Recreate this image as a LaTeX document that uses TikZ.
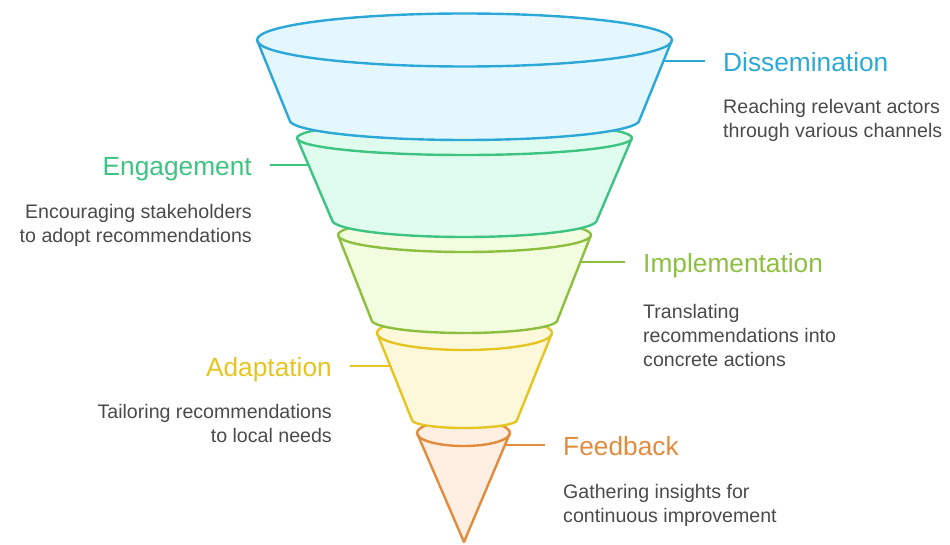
\documentclass[tikz,border=0pt]{standalone}
\usepackage{fontspec}
\setmainfont{Liberation Sans}
\definecolor{cBlue}{HTML}{2BA8D8}
\definecolor{fBlue}{HTML}{E5F7FE}
\definecolor{cGreen}{HTML}{3EC482}
\definecolor{fGreen}{HTML}{E0FCEF}
\definecolor{cLime}{HTML}{8CBF3F}
\definecolor{fLime}{HTML}{F2FDDF}
\definecolor{cYellow}{HTML}{E5C522}
\definecolor{fYellow}{HTML}{FEF8DA}
\definecolor{cOrange}{HTML}{E38B3D}
\definecolor{fOrange}{HTML}{FEEFE2}
\definecolor{descgray}{HTML}{4A4A4A}
% #1 stroke, #2 fill, #3 cx, #4 top cy, #5 top rx, #6 top ry, #7 bottom cy, #8 bottom rx, #9 bottom ry
\newcommand{\funlayer}[9]{%
  \path[draw=#1,fill=#2,line width=2.4pt,line join=round]
    (#3-#5,#4) -- (#3-#8,#7)
    arc[start angle=180,end angle=360,x radius=#8,y radius=#9]
    -- (#3+#5,#4)
    arc[start angle=0,end angle=180,x radius=#5,y radius=#6] -- cycle;
  \draw[#1,line width=2.4pt] (#3-#5,#4) arc[start angle=180,end angle=360,x radius=#5,y radius=#6];
}
\begin{document}
\begin{tikzpicture}[x=1pt,y=1pt,
  title/.style={inner sep=0pt,font=\fontsize{26.3}{30}\selectfont},
  desc/.style={inner sep=0pt,text=descgray,font=\fontsize{19.6}{24}\selectfont},
  conn/.style={line width=2.4pt}]
\useasboundingbox (0,0) rectangle (950,544);
% funnel layers, bottom first
\path[draw=cOrange,fill=fOrange,line width=2.4pt,line join=round]
  (417,111) -- (464,2) -- (510,111)
  arc[start angle=0,end angle=180,x radius=46.5,y radius=13] -- cycle;
\draw[cOrange,line width=2.4pt] (417,111) arc[start angle=180,end angle=360,x radius=46.5,y radius=13];
\funlayer{cYellow}{fYellow}{464.5}{211}{87.5}{17}{124}{52.5}{8}
\funlayer{cLime}{fLime}{464.5}{309}{126.5}{17}{224}{93}{13}
\funlayer{cGreen}{fGreen}{464.5}{406}{167.5}{17}{324}{132.5}{17}
\funlayer{cBlue}{fBlue}{464.5}{504}{207.5}{26.5}{424}{175}{20}
% anchor points on funnel sides and line ends
\coordinate (sBlue) at (664,483);
\coordinate (eBlue) at (705,483);
\coordinate (sGreen) at (308,379);
\coordinate (eGreen) at (270,379);
\coordinate (sLime) at (580,282);
\coordinate (eLime) at (625,282);
\coordinate (sYellow) at (389,178);
\coordinate (eYellow) at (350,178);
\coordinate (sOrange) at (505,99);
\coordinate (eOrange) at (545,99);
\draw[conn,cBlue] (sBlue) -- (eBlue);
\draw[conn,cGreen] (sGreen) -- (eGreen);
\draw[conn,cLime] (sLime) -- (eLime);
\draw[conn,cYellow] (sYellow) -- (eYellow);
\draw[conn,cOrange] (sOrange) -- (eOrange);
% titles
\node[title,text=cBlue,anchor=base west] (tDis) at (723,472) {Dissemination};
\node[title,text=cGreen,anchor=base east] (tEng) at (252,368) {Engagement};
\node[title,text=cLime,anchor=base west] (tImp) at (643,271) {Implementation};
\node[title,text=cYellow,anchor=base east] (tAda) at (332,168) {Adaptation};
\node[title,text=cOrange,anchor=base west] (tFee) at (563,89) {Feedback};
% descriptions
\node[desc,align=left,anchor=north west] (dDis) at (723,447.8) {\strut Reaching relevant actors\\through various channels};
\node[desc,align=right,anchor=north east] (dEng) at (252,342.8) {\strut Encouraging stakeholders\\to adopt recommendations};
\node[desc,align=left,anchor=north west] (dImp) at (643,242.8) {\strut Translating\\recommendations into\\concrete actions};
\node[desc,align=right,anchor=north east] (dAda) at (332,142.8) {\strut Tailoring recommendations\\to local needs};
\node[desc,align=left,anchor=north west] (dFee) at (563,62.8) {\strut Gathering insights for\\continuous improvement};
\end{tikzpicture}
\end{document}
